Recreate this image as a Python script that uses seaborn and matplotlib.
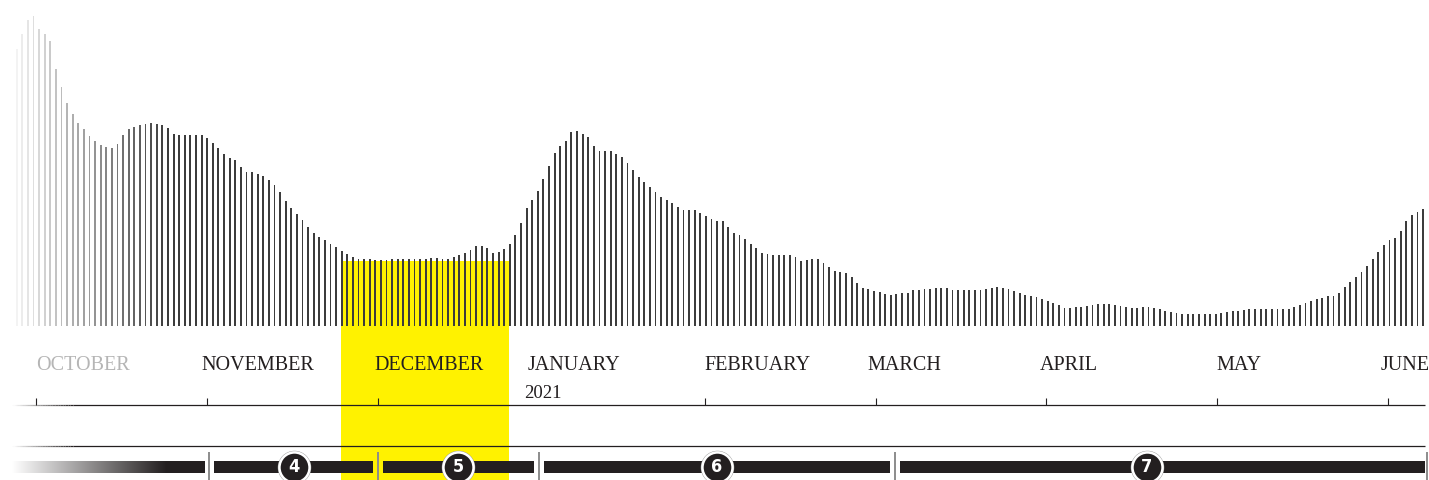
import numpy as np
import pandas as pd
import matplotlib
matplotlib.use("Agg")
import matplotlib.pyplot as plt
from matplotlib.patches import Rectangle
from matplotlib.colors import LinearSegmentedColormap, to_rgba
from matplotlib.collections import LineCollection
import seaborn as sns

# daily values, one bar per day
cases = [
    277, 292, 306, 310, 297, 292, 285, 257, 239, 223, 212, 203, 197, 190, 185, 181,
    179, 178, 182, 191, 197, 199, 201, 202, 203, 202, 201, 198, 192, 191, 191, 191,
    191, 191, 188, 183, 178, 172, 168, 166, 159, 154, 154, 152, 150, 146, 141, 134,
    125, 118, 112, 106, 99, 93, 89, 86, 82, 79,
    75, 72, 69, 67, 67, 67, 66, 66, 66, 67, 67, 67, 67, 67, 67, 67, 68, 68, 67, 67,
    69, 71, 73, 76, 80, 80, 78, 73, 74, 77, 82, 91,
    103, 118, 126, 135, 147, 160, 173, 180, 185, 194, 195, 192, 189, 180, 175, 175,
    175, 172, 169, 163, 156, 149, 144, 139, 134, 129, 126, 123, 119, 116, 116, 116,
    113, 110, 107, 105, 105, 99, 93, 91, 87, 82, 78, 73, 72, 71, 71, 71, 71, 69,
    65, 66, 67, 67, 63, 59, 55, 54, 53,
    49, 43, 38, 37, 35, 34, 32, 31, 32, 33, 33, 36, 36, 37, 37, 38, 38, 38, 36, 36,
    36, 36, 36, 36, 37, 38, 39, 38, 37, 35, 33, 31, 30, 29, 27, 25, 23, 21, 18, 18,
    19, 19, 20, 21, 22, 22, 22, 21, 20, 19, 18, 18,
    19, 19, 18, 17, 15, 14, 13, 12, 12, 12, 12, 12, 12, 12, 13, 14, 15, 15, 16,
    17, 17, 17, 17, 17, 17, 17, 17,
    19, 21, 23, 25, 27, 28, 30, 30, 33, 39, 44, 49, 54, 60, 67, 74, 81, 86, 88, 95,
    105, 111, 114, 117,
]
day = np.arange(len(cases))

months = ["OCTOBER", "NOVEMBER", "DECEMBER", "JANUARY", "FEBRUARY", "MARCH",
          "APRIL", "MAY", "JUNE"]
month_pos = [3.4, 32.9, 63.8, 91.1, 122.7, 151.9, 182.6, 214.2, 243.4]
tick_pos = [3.4, 34.0, 64.5, 122.8, 153.4, 183.7, 214.2, 244.7]
year_label = "2021"
year_pos = 90.5

phases = ["4", "5", "6", "7"]
phase_start = [35.2, 65.4, 94.1, 157.6]
phase_end = [63.6, 92.3, 155.9, 251.3]
phase_mid = [49.5, 78.8, 125.0, 201.7]
phase_breaks = [34.3, 64.5, 93.2, 156.7, 251.7]

highlight = (57.9, 87.9, 65)

DARK = "#231F20"
BAR = "#3c3c3c"
YELLOW = "#FFF200"

sns.set_theme(style="white")
plt.rcParams["font.family"] = ["Liberation Serif", "DejaVu Serif"]

fig = plt.figure(figsize=(14.29, 4.8), dpi=100)
ax = fig.add_axes([0, 0, 1, 1])

df = pd.DataFrame({"day": day, "cases": cases})
sns.barplot(data=df, x="day", y="cases", native_scale=True, width=0.33,
            color=BAR, saturation=1, ax=ax, zorder=3)
for i, p in enumerate(ax.patches):
    p.set_alpha(min(1.0, 0.06 + 0.035 * i))
    p.set_edgecolor("none")

# yellow highlight
ax.add_patch(Rectangle((highlight[0], -154), highlight[1] - highlight[0], highlight[2] + 154,
                       color=YELLOW, zorder=1, lw=0))

# month labels
for m, x in zip(months, month_pos):
    col = "#b5b5b5" if m == "OCTOBER" else DARK
    ax.text(x, -39, m, fontsize=14.5, color=col, ha="left", va="center")
ax.text(year_pos, -68, year_label, fontsize=13.5, color=DARK, ha="left", va="center")

# timeline lines, fading in at the left
x0, x1, xf = -0.84, 251.3, 10.0
xs = np.linspace(x0, xf, 25)
base = np.array(to_rgba(DARK))
for y in (-79, -120):
    ax.plot([xf, x1], [y, y], color=DARK, lw=0.9, solid_capstyle="butt", zorder=2)
    segs = [[(xs[k], y), (xs[k + 1], y)] for k in range(len(xs) - 1)]
    cols = np.tile(base, (len(segs), 1))
    cols[:, 3] = (np.arange(len(segs)) + 0.5) / len(segs)
    ax.add_collection(LineCollection(segs, colors=cols, linewidths=0.9,
                                     capstyle="butt", zorder=2))
ax.vlines(tick_pos, -79, -72, color=DARK, lw=0.8, zorder=2)

# phase bars
cmap = LinearSegmentedColormap.from_list("fade", ["#ffffff", DARK])
ax.imshow(np.linspace(0, 1, 256)[None, :], cmap=cmap, extent=[x0, 26.8, -147, -135],
          aspect="auto", zorder=2)
ax.add_patch(Rectangle((26.8, -147), 33.6 - 26.8, 12, color=DARK, lw=0, zorder=2))
for s, e in zip(phase_start, phase_end):
    ax.add_patch(Rectangle((s, -147), e - s, 12, color=DARK, lw=0, zorder=2))
ax.vlines(phase_breaks, -154, -126, color="#8c8c8c", lw=1.4, zorder=2)

ax.scatter(phase_mid, [-141] * len(phases), s=580, color="#9a9a9a", zorder=4, lw=0)
ax.scatter(phase_mid, [-141] * len(phases), s=470, color=DARK, edgecolors="white",
           linewidths=1.8, zorder=5)
for lab, x in zip(phases, phase_mid):
    ax.text(x, -141.5, lab, color="white", fontsize=13, fontweight="bold",
            family="DejaVu Sans", fontstretch="condensed",
            ha="center", va="center", zorder=6)

ax.set_xlim(-2.98, 252.05)
ax.set_ylim(-154, 326)
ax.axis("off")

fig.savefig("out.png", dpi=100)
